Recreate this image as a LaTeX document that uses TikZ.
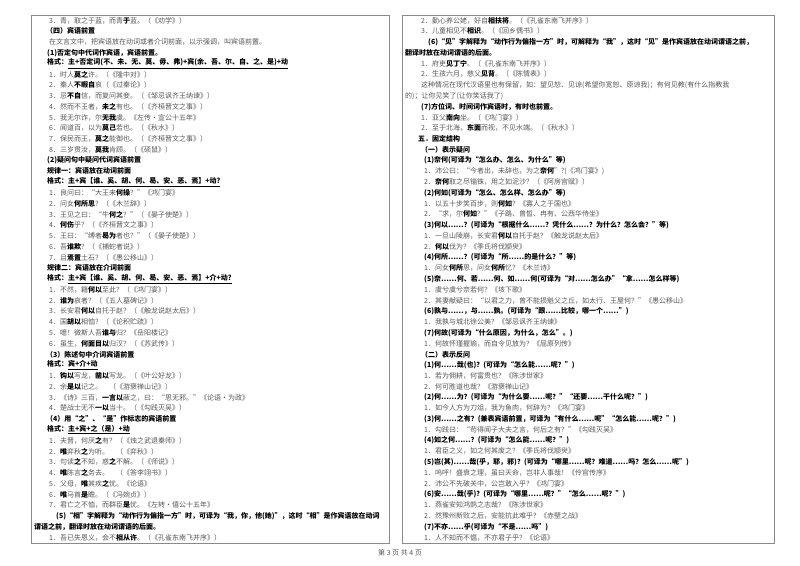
\documentclass[tikz,border=0pt]{standalone}
\usepackage{fontspec}
\setmainfont{Noto Sans CJK SC}
\definecolor{txtgray}{HTML}{555555}
\definecolor{boxgray}{HTML}{8A8A8A}
\newcommand\Bd[1]{{\bfseries\color{black}#1}}
\newcommand\Tl[4]{\node[txt] (#1) at (#2,{-(20.5+(#3-1)*10.77)}) {#4};}
\begin{document}
\begin{tikzpicture}[x=1pt,y=1pt,
  txt/.style={anchor=west,inner sep=0pt,font=\fontsize{7}{8}\selectfont,text=txtgray},
  hd/.style={txt,text=black,font=\fontsize{7}{8}\selectfont\bfseries},
  panel/.style={draw=boxgray,line width=0.9pt}]
\useasboundingbox (0,0) rectangle (800,-565);
\node[panel,minimum width=358,minimum height=528,anchor=north west,inner sep=0] (lbox) at (31,-15) {};
\node[panel,minimum width=372,minimum height=528,anchor=north west,inner sep=0] (rbox) at (402,-15) {};
\node[txt,anchor=center] (foot) at (400,-553) {第 3 页 共 4 页};
% left column
\Tl{l1}{49}{1}{3．青，取之于蓝，而青\Bd{于}蓝。（《劝学》）}
\node[hd] (l2) at (46,-31.3) {（四）宾语前置};
\Tl{l3}{49}{3}{在文言文中，把宾语放在动词或者介词前面，以示强调，叫宾语前置。}
\node[hd] (l4) at (47,-52.8) {(1)否定句中代词作宾语，宾语前置。};
\node[hd] (l5) at (47,-63.6) {格式：\underline{主+否定词(不、未、无、莫、毋、弗)+宾(余、吾、尔、自、之、是)+动}};
\Tl{l6}{49}{6}{1．时人\Bd{莫之}许。（《隆中对》）}
\Tl{l7}{49}{7}{2．秦人\Bd{不暇自}哀（《过秦论》）}
\Tl{l8}{49}{8}{3．忌\Bd{不自}信，而复问其妾。（《邹忌讽齐王纳谏》）}
\Tl{l9}{49}{9}{4．然而不王者，\Bd{未之}有也。（《齐桓晋文之事》）}
\Tl{l10}{49}{10}{5．我无尔诈，尔\Bd{无我}虞。《左传·宣公十五年》}
\Tl{l11}{49}{11}{6．闻道百，以为\Bd{莫己}若也。（《秋水》）}
\Tl{l12}{49}{12}{7．保民而王，\Bd{莫之}能御也。（《齐桓晋文之事》）}
\Tl{l13}{49}{13}{8．三岁贯汝，\Bd{莫我}肯顾。（《硕鼠》）}
\node[hd] (l14) at (47,-160.5) {(2)疑问句中疑问代词宾语前置};
\node[hd] (l15) at (47,-171.3) {规律一：宾语放在动词前面};
\node[hd] (l16) at (47,-182.0) {格式：\underline{主+宾【谁、奚、胡、何、曷、安、恶、焉】+动?}};
\Tl{l17}{49}{17}{1．良问曰：“大王来\Bd{何操}？”《鸿门宴》}
\Tl{l18}{49}{18}{2．问女\Bd{何所思}？（《木兰辞》）}
\Tl{l19}{49}{19}{3．王见之曰：“牛\Bd{何之}？”（《晏子使楚》）}
\Tl{l20}{49}{20}{4．\Bd{何伤}乎？（《齐桓晋文之事》）}
\Tl{l21}{49}{21}{5．王曰：“缚者\Bd{曷为}者也？”（《晏子使楚》）}
\Tl{l22}{49}{22}{6．吾\Bd{谁欺}？（《捕蛇者说》）}
\Tl{l23}{49}{23}{7．且\Bd{焉置}土石？（《愚公移山》）}
\node[hd] (l24) at (47,-268.2) {规律二：宾语放在介词前面};
\node[hd] (l25) at (47,-279.0) {格式：\underline{主+宾【谁、奚、胡、何、曷、安、恶、焉】+介+动?}};
\Tl{l26}{49}{26}{1．不然，籍\Bd{何以}至此？（《鸿门宴》）}
\Tl{l27}{49}{27}{2．\Bd{谁为}哀者？（《五人墓碑记》）}
\Tl{l28}{49}{28}{3．长安君\Bd{何以}自托于赵？（《触龙说赵太后》）}
\Tl{l29}{49}{29}{4．国\Bd{胡以}相恤？（《论积贮疏》）}
\Tl{l30}{49}{30}{5．噫！微斯人吾\Bd{谁与}归？《岳阳楼记》}
\Tl{l31}{49}{31}{6．虽生，\Bd{何面目以}归汉？（《苏武传》）}
\node[hd] (l32) at (46,-354.4) {（3）陈述句中介词宾语前置};
\node[hd] (l33) at (47,-365.1) {格式：\underline{宾+介+动}};
\Tl{l34}{49}{34}{1．\Bd{钩以}写龙，\Bd{凿以}写龙。（《叶公好龙》）}
\Tl{l35}{49}{35}{2．余\Bd{是以}记之。\quad（《游褒禅山记》）}
\Tl{l36}{49}{36}{3．《诗》三百，\Bd{一言以}蔽之，曰：“思无邪。”《论语·为政》}
\Tl{l37}{49}{37}{4．楚战士无不\Bd{一以}当十。（《勾践灭吴》）}
\node[hd] (l38) at (46,-419.0) {（4）用“之”、“是”作标志的宾语前置};
\node[hd] (l39) at (47,-429.8) {格式：\underline{主+宾+之（是）+动}};
\Tl{l40}{49}{40}{1．夫晋，何厌\Bd{之}有？（《烛之武退秦师》）}
\Tl{l41}{49}{41}{2．\Bd{唯}弈秋\Bd{之}为听。\quad（《弈秋》）}
\Tl{l42}{49}{42}{3．句读\Bd{之}不知，惑\Bd{之}不解。（《师说》）}
\Tl{l43}{49}{43}{4．\Bd{唯}陈言\Bd{之}务去。\quad（《答李翊书》）}
\Tl{l44}{49}{44}{5．父母，\Bd{唯}其疾\Bd{之}忧。《论语》}
\Tl{l45}{49}{45}{6．\Bd{唯}马首\Bd{是}瞻。（《冯婉贞》）}
\Tl{l46}{49}{46}{7．君亡之不恤，而群臣\Bd{是}忧。《左转·僖公十五年》}
\node[hd] (l47) at (56,-516.0) {(5)“相”字解释为“动作行为偏指一方”时，可译为“我，你，他(她)”，这时“相”是作宾语放在动词};
\node[hd] (l48) at (34,-526.8) {谓语之前，翻译时放在动词谓语的后面。};
\Tl{l49}{49}{49}{1．吾已失恩义，会不\Bd{相从许}。（《孔雀东南飞并序》）}
% right column
\Tl{r1}{421}{1}{2．勤心养公姥，好自\Bd{相扶将}。（《孔雀东南飞并序》）}
\Tl{r2}{421}{2}{3．儿童相见不\Bd{相识}。（《回乡偶书》）}
\node[hd] (r3) at (428,-42.0) {(6)“见”字解释为“动作行为偏指一方”时，可解释为“我”，这时“见”是作宾语放在动词谓语之前，};
\node[hd] (r4) at (405,-52.8) {翻译时放在动词谓语的后面。};
\Tl{r5}{421}{5}{1．府吏\Bd{见丁宁}。（《孔雀东南飞并序》）}
\Tl{r6}{421}{6}{2．生孩六月，慈父\Bd{见背}。（《陈情表》）}
\Tl{r7}{421}{7}{这种情况在现代汉语里也有保留，如：望见恕、见谅(希望你宽恕、原谅我)；有何见教(有什么指教我}
\Tl{r8}{405}{8}{的)；让你见笑了(让你笑话我了)}
\node[hd] (r9) at (421,-106.7) {(7)方位词、时间词作宾语时，有时也前置。};
\Tl{r10}{421}{10}{1．亚父\Bd{南向}坐。（《鸿门宴》）}
\Tl{r11}{421}{11}{2．至于北海，\Bd{东面}而视，不见水端。（《秋水》）}
\node[hd] (r12) at (418,-139.0) {五．固定结构};
\node[hd] (r13) at (421,-149.7) {（一）表示疑问};
\node[hd] (r14) at (424,-160.5) {(1)奈何(可译为“怎么办、怎么、为什么”等)};
\Tl{r15}{424}{15}{1．沛公曰：“今者出，未辞也，为之\Bd{奈何}”?(《鸿门宴》)}
\Tl{r16}{424}{16}{2．\Bd{奈何}取之尽锱铢，用之如泥沙？（《阿房宫赋》）}
\node[hd] (r17) at (424,-192.8) {(2)何如(可译为“怎么、怎么样、怎么办”等)};
\Tl{r18}{424}{18}{1．以五十步笑百步，则\Bd{何如}？《寡人之于国也》}
\Tl{r19}{424}{19}{2．“求，尔\Bd{何如}？”《子路、曾皙、冉有、公西华侍坐》}
\node[hd] (r20) at (424,-225.1) {(3)何以……？(可译为“根据什么……？凭什么……？为什么？怎么会？”等)};
\Tl{r21}{424}{21}{1．一旦山陵崩，长安君\Bd{何以}自托于赵？《触龙说赵太后》}
\Tl{r22}{424}{22}{2．\Bd{何以}伐为？《季氏将伐颛臾》}
\node[hd] (r23) at (424,-257.4) {(4)何所……？(可译为“所……的是什么？”等)};
\Tl{r24}{424}{24}{1．问女\Bd{何所}思，问女\Bd{何所}忆？《木兰诗》}
\node[hd] (r25) at (424,-279.0) {(5)奈……何、若……何、如……何(可译为“对……怎么办”“拿……怎么样等)};
\Tl{r26}{424}{26}{1．虞兮虞兮奈若何？《垓下歌》}
\Tl{r27}{424}{27}{2．其妻献疑曰：“以君之力，曾不能损魁父之丘，如太行、王屋何？”《愚公移山》}
\node[hd] (r28) at (424,-311.3) {(6)孰与……，与……孰。(可译为“跟……比较，哪一个……”)};
\Tl{r29}{424}{29}{1．我孰与城北徐公美？《邹忌讽齐王纳谏》}
\node[hd] (r30) at (424,-332.8) {(7)何故(可译为“什么原因，为什么，怎么”。)};
\Tl{r31}{424}{31}{1．何故怀瑾握瑜，而自令见放为？《屈原列传》}
\node[hd] (r32) at (421,-354.4) {（二）表示反问};
\node[hd] (r33) at (424,-365.1) {(1)何……哉(也)？(可译为“怎么能……呢？”)};
\Tl{r34}{424}{34}{1．若为佣耕，何富贵也？《陈涉世家》}
\Tl{r35}{424}{35}{2．何可胜道也哉？《游褒禅山记》}
\node[hd] (r36) at (424,-397.5) {(2)何……为？(可译为“为什么要……呢？”“还要……干什么呢？”)};
\Tl{r37}{424}{37}{1．如今人方为刀俎，我为鱼肉，何辞为？《鸿门宴》}
\node[hd] (r38) at (424,-419.0) {(3)何……之有？(兼表宾语前置，可译为“有什么……呢”“怎么能……呢？”)};
\Tl{r39}{424}{39}{1．勾践曰：“苟得闻子大夫之言，何后之有？”《勾践灭吴》}
\node[hd] (r40) at (424,-440.6) {(4)如之何……？(可译为“怎么能……呢？”)};
\Tl{r41}{424}{41}{1．君臣之义，如之何其废之？《季氏将伐颛臾》}
\node[hd] (r42) at (424,-462.1) {(5)岂(其)……哉(乎，耶，邪)？(可译为“哪里……呢？难道……吗？怎么……呢”)};
\Tl{r43}{424}{43}{1．呜呼！盛衰之理，虽曰天命，岂非人事哉！《伶官传序》}
\Tl{r44}{424}{44}{2．沛公不先破关中，公岂敢入乎？《鸿门宴》}
\node[hd] (r45) at (424,-494.4) {(6)安……哉(乎)？(可译为“哪里……呢？”“怎么……呢？”)};
\Tl{r46}{424}{46}{1．燕雀安知鸿鹄之志哉？《陈涉世家》}
\Tl{r47}{424}{47}{2．然豫州新败之后，安能抗此难乎？《赤壁之战》}
\node[hd] (r48) at (424,-526.8) {(7)不亦……乎(可译为“不是……吗”)};
\Tl{r49}{424}{49}{1．人不知而不愠，不亦君子乎？《论语》}
\end{tikzpicture}
\end{document}
